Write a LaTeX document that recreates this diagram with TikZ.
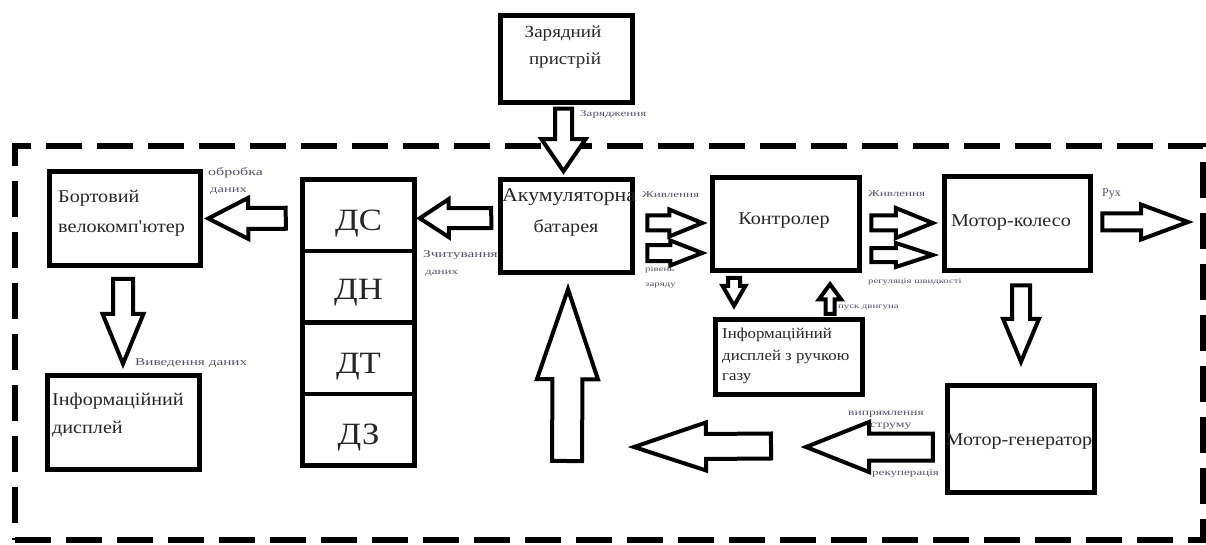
\documentclass[tikz,border=0pt]{standalone}
\usepackage{fontspec}
\setmainfont{Liberation Serif}
\newfontfamily\lblfont[FakeStretch=1.45]{Liberation Serif}
\newfontfamily\wfont[FakeStretch=1.12]{Liberation Serif}
\usetikzlibrary{calc}
\definecolor{lblcol}{RGB}{85,80,105}
\newcommand{\blockarrow}[5]{%
  \coordinate (bah) at ($(#2)!#5!(#1)$);
  \draw[barrow] ($(#1)!#3!90:(#2)$) -- ($(bah)!#3!-90:(#1)$) -- ($(bah)!#4!-90:(#1)$) -- (#2)
     -- ($(bah)!#4!90:(#1)$) -- ($(bah)!#3!90:(#1)$) -- ($(#1)!#3!-90:(#2)$) -- cycle;}
\begin{document}
\begin{tikzpicture}[x=1pt,y=-1pt,
  box/.style={draw, line width=4.5pt, inner sep=0pt},
  barrow/.style={draw, line width=4pt, line join=miter, fill=white},
  frame/.style={draw, line width=6pt, dash pattern=on 36pt off 15pt, inner sep=0pt},
  lbl/.style={text=lblcol, inner sep=0pt, anchor=base west, font=\lblfont\fontsize{9}{10}\selectfont},
  txt/.style={text=black!85, inner sep=0pt, font=\wfont\fontsize{18}{20}\selectfont},
  big/.style={text=black!85, inner sep=0pt, font=\wfont\fontsize{31}{34}\selectfont}]
\useasboundingbox (0,0) rectangle (1206,545);

\node[frame, minimum width=1188pt, minimum height=394pt] (frame) at (609,343) {};

% boxes
\node[box, minimum width=132pt, minimum height=87pt] (charger) at (566.5,59) {};
\node[box, minimum width=151pt, minimum height=94pt] (bort) at (125,218.5) {};
\node[box, minimum width=112pt, minimum height=71.5pt] (s1) at (358.5,215.25) {};
\node[box, minimum width=112pt, minimum height=71.5pt] (s2) at (358.5,286.75) {};
\node[box, minimum width=112pt, minimum height=71.5pt] (s3) at (358.5,358.25) {};
\node[box, minimum width=112pt, minimum height=71.5pt] (s4) at (358.5,429.75) {};
\node[box, minimum width=132pt, minimum height=93pt] (batt) at (566.5,226) {};
\node[box, minimum width=147pt, minimum height=93pt] (ctrl) at (786,224) {};
\node[box, minimum width=146pt, minimum height=94pt] (motor) at (1017.5,223.5) {};
\node[box, minimum width=147pt, minimum height=75pt] (gasdisp) at (789,357) {};
\node[box, minimum width=147pt, minimum height=107pt] (motgen) at (1021,439) {};
\node[box, minimum width=152pt, minimum height=94pt] (disp) at (123.5,422.5) {};

% sensor texts
\node[big] (ts1) at ($(s1.center)+(0,8)$) {ДС};
\node[big] (ts2) at ($(s2.center)+(0,6)$) {ДН};
\node[big] (ts3) at ($(s3.center)+(0,8)$) {ДТ};
\node[big] (ts4) at ($(s4.center)+(0,8)$) {ДЗ};

% box texts
\node[txt, anchor=base, font=\wfont\fontsize{17}{20}\selectfont] (tch1) at (563,38) {Зарядний};
\node[txt, anchor=base, font=\wfont\fontsize{17}{20}\selectfont] (tch2) at (565,65) {пристрій};
\node[txt, anchor=base west, font=\wfont\fontsize{19.5}{20}\selectfont] (tba1) at (502,202) {Акумуляторна};
\node[txt, anchor=base] (tba2) at (566,233) {батарея};
\node[txt, anchor=base] (tct) at (784,225) {Контролер};
\node[txt, anchor=base] (tmo) at (1011,227) {Мотор-колесо};
\node[txt, anchor=base] (tmg) at (1019,445) {Мотор-генератор};
\node[txt, anchor=base west] (tbo1) at (58,203) {Бортовий};
\node[txt, anchor=base west] (tbo2) at (58,233) {велокомп'ютер};
\node[txt, anchor=base west] (tdi1) at (52,405) {Інформаційний};
\node[txt, anchor=base west] (tdi2) at (52,433) {дисплей};
\node[txt, anchor=base west, font=\wfont\fontsize{15}{18}\selectfont] (tgd1) at (722,338) {Інформаційний};
\node[txt, anchor=base west, font=\wfont\fontsize{15}{18}\selectfont] (tgd2) at (722,360) {дисплей з ручкою};
\node[txt, anchor=base west, font=\wfont\fontsize{15}{18}\selectfont] (tgd3) at (722,380) {газу};

% arrow end points
\coordinate (a1s) at ($(charger.south)+(-3,4)$);
\coordinate (a1e) at ($(batt.north)+(-3,-6)$);
\coordinate (a2s) at ($(s1.west)+(-14.5,3)$);
\coordinate (a2e) at ($(bort.east)+(5.5,0)$);
\coordinate (a3s) at ($(batt.west)+(-7,-8)$);
\coordinate (a3e) at ($(s1.east)+(3,3)$);
\coordinate (a4s) at ($(batt.east)+(12.5,-3)$);
\coordinate (a4e) at ($(ctrl.west)+(-8,-1)$);
\coordinate (a5s) at ($(batt.east)+(12.5,27)$);
\coordinate (a5e) at ($(ctrl.west)+(-8,29)$);
\coordinate (a6s) at ($(ctrl.east)+(9.5,-1)$);
\coordinate (a6e) at ($(motor.west)+(-9.5,-0.5)$);
\coordinate (a7s) at ($(ctrl.east)+(9.5,31)$);
\coordinate (a7e) at ($(motor.west)+(-9.5,31.5)$);
\coordinate (a8s) at ($(motor.east)+(9.5,-1.5)$);
\coordinate (ruh) at (1188,222);
\coordinate (a9s) at ($(motor.south)+(3.5,12.5)$);
\coordinate (a9e) at ($(motgen.north)+(0,-21.5)$);
\coordinate (a10s) at ($(ctrl.south)+(-52,5)$);
\coordinate (a10e) at ($(gasdisp.north)+(-55,-11.5)$);
\coordinate (a11s) at ($(gasdisp.north)+(41,-3.5)$);
\coordinate (a11e) at ($(ctrl.south)+(44,11.5)$);
\coordinate (upbase) at (567,461);
\coordinate (a12e) at ($(batt.south)+(1.5,14.5)$);
\coordinate (midtail) at (771,446);
\coordinate (midtip) at (634,447);
\coordinate (a13s) at ($(motgen.west)+(-12.5,8)$);
\coordinate (rectip) at (806,447);
\coordinate (a14s) at ($(bort.south)+(-2,11)$);
\coordinate (a14e) at ($(disp.north)+(-0.5,-9.5)$);

% block arrows: tail, tip, shaft half, head half, head length
\blockarrow{a1s}{a1e}{8.5pt}{22pt}{32pt}
\blockarrow{a2s}{a2e}{10.5pt}{20.5pt}{40pt}
\blockarrow{a3s}{a3e}{10pt}{19pt}{29pt}
\blockarrow{a4s}{a4e}{7.5pt}{13.5pt}{33pt}
\blockarrow{a5s}{a5e}{8pt}{12.5pt}{32pt}
\blockarrow{a6s}{a6e}{7.5pt}{15pt}{37pt}
\blockarrow{a7s}{a7e}{7pt}{12pt}{37pt}
\blockarrow{a8s}{ruh}{8.5pt}{17.5pt}{47pt}
\blockarrow{a9s}{a9e}{9pt}{18pt}{43pt}
\blockarrow{a10s}{a10e}{6pt}{11.5pt}{20pt}
\blockarrow{a11s}{a11e}{4.5pt}{11pt}{15pt}
\blockarrow{upbase}{a12e}{15pt}{30.5pt}{90pt}
\blockarrow{midtail}{midtip}{12.5pt}{24pt}{72pt}
\blockarrow{a13s}{rectip}{13.5pt}{25pt}{63pt}
\blockarrow{a14s}{a14e}{10pt}{20.5pt}{50pt}

% small labels
\node[lbl] (l1) at (580,117) {Зарядження};
\node[lbl, font=\lblfont\fontsize{11}{12}\selectfont] (l2) at (208,176) {обробка};
\node[lbl, font=\lblfont\fontsize{10}{12}\selectfont] (l3) at (210,193) {даних};
\node[lbl, font=\lblfont\fontsize{10.5}{12}\selectfont] (l4) at (423,258) {Зчитування};
\node[lbl, font=\lblfont\fontsize{9}{10}\selectfont] (l5) at (425,274) {даних};
\node[lbl] (l6) at (642,198) {Живлення};
\node[lbl, font=\lblfont\fontsize{7.5}{9}\selectfont] (l7) at (645,271) {рівень};
\node[lbl, font=\lblfont\fontsize{7.5}{9}\selectfont] (l8) at (645,286) {заряду};
\node[lbl] (l9) at (868,197) {Живлення};
\node[lbl, font=\lblfont\fontsize{7.4}{9}\selectfont] (l10) at (868,283) {регуляція швидкості};
\node[lbl, font=\lblfont\fontsize{7.4}{9}\selectfont] (l11) at (838,308) {пуск двигуна};
\node[lbl, font=\lblfont\fontsize{10.5}{12}\selectfont] (l12) at (135,365) {Виведення даних};
\node[lbl, font=\lblfont\fontsize{9.3}{10}\selectfont] (l13) at (848,415) {випрямлення};
\node[lbl, font=\lblfont\fontsize{9.5}{10}\selectfont] (l14) at (870,427) {струму};
\node[lbl] (l15) at (872,475) {рекуперація};
\node[lbl, font=\fontsize{12}{13}\selectfont] (l16) at (1102,197) {Рух};
\end{tikzpicture}
\end{document}
